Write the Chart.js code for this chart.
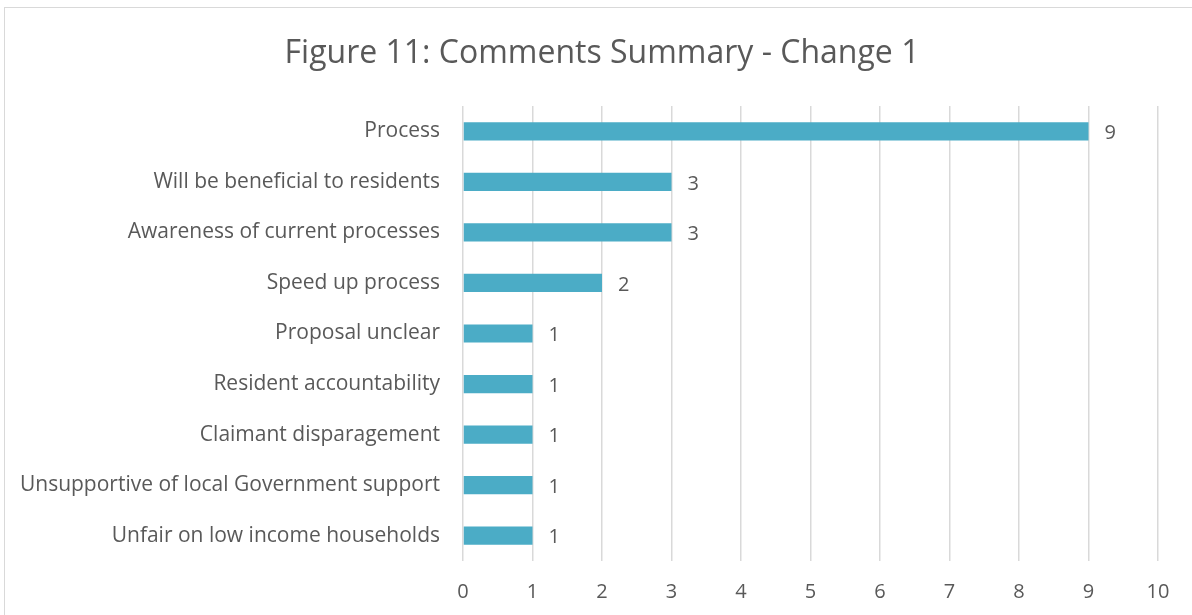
<!DOCTYPE html>
<html>
<head>
<meta charset="utf-8">
<script src="https://cdn.jsdelivr.net/npm/chart.js@4"></script>
<style>
  html, body { margin: 0; padding: 0; background: #fff; }
  #wrap { width: 1192px; height: 615px; position: relative; }
</style>
</head>
<body>
<div id="wrap"><canvas id="c" width="1192" height="615"></canvas></div>
<script>
const titleText = "Figure 11: Comments Summary - Change 1";
const categories = [
  "Process",
  "Will be beneficial to residents",
  "Awareness of current processes",
  "Speed up process",
  "Proposal unclear",
  "Resident accountability",
  "Claimant disparagement",
  "Unsupportive of local Government support",
  "Unfair on low income households"
];
const counts = [9, 3, 3, 2, 1, 1, 1, 1, 1];
const xTicks = [0, 1, 2, 3, 4, 5, 6, 7, 8, 9, 10];

const FONT = "'Open Sans'";
const TEXT = "#595959";

const decor = {
  id: "decor",
  beforeDraw(chart) {
    const ctx = chart.ctx;
    ctx.save();
    ctx.fillStyle = "#fff";
    ctx.fillRect(0, 0, chart.width, chart.height);
    ctx.strokeStyle = "#D9D9D9";
    ctx.lineWidth = 1;
    ctx.strokeRect(4.5, 7.5, 1200, 700);
    ctx.restore();
  },
  afterDraw(chart) {
    const ctx = chart.ctx;
    ctx.save();
    ctx.fillStyle = TEXT;
    ctx.font = "32px " + FONT;
    ctx.textAlign = "center";
    ctx.textBaseline = "middle";
    ctx.fillText(titleText, 602, 54);
    ctx.restore();
  },
  afterDatasetsDraw(chart) {
    const ctx = chart.ctx;
    const meta = chart.getDatasetMeta(0);
    ctx.save();
    ctx.fillStyle = TEXT;
    ctx.font = "20px " + FONT;
    ctx.textAlign = "left";
    ctx.textBaseline = "middle";
    meta.data.forEach((bar, i) => {
      ctx.fillText(String(counts[i]), bar.x + 16, bar.y + 2);
    });
    ctx.restore();
  }
};

new Chart(document.getElementById("c"), {
  type: "bar",
  data: {
    labels: categories,
    datasets: [{
      data: counts,
      backgroundColor: "#4BACC6",
      borderWidth: 0,
      barPercentage: 0.36,
      categoryPercentage: 1
    }]
  },
  options: {
    indexAxis: "y",
    responsive: false,
    animation: false,
    layout: { padding: { top: 106, left: 0, right: 34, bottom: 0 } },
    plugins: {
      legend: { display: false },
      title: { display: false },
      tooltip: { enabled: false }
    },
    scales: {
      x: {
        min: 0,
        max: 10,
        afterBuildTicks(axis) { axis.ticks = xTicks.map(v => ({ value: v })); },
        afterFit(axis) { axis.height = 54; },
        grid: { color: "#D9D9D9", lineWidth: 1.5, drawTicks: false },
        border: { display: false },
        ticks: { color: TEXT, font: { family: FONT, size: 20 }, padding: 19 }
      },
      y: {
        afterFit(axis) { axis.width = 463; },
        grid: { display: false, drawTicks: false },
        border: { display: false },
        ticks: { color: TEXT, font: { family: FONT, size: 21 }, padding: 23 }
      }
    }
  },
  plugins: [decor]
});
</script>
</body>
</html>
